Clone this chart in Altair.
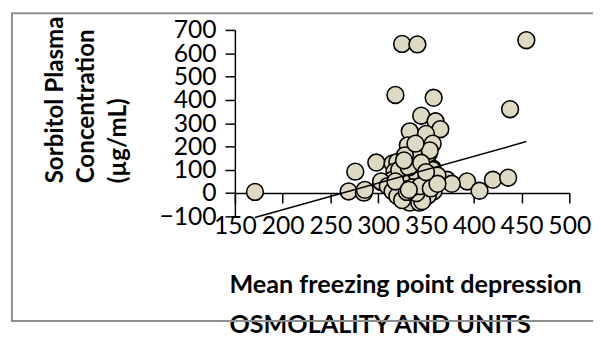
import altair as alt
import pandas as pd

# Mean freezing point depression (osmolality) vs sorbitol plasma concentration
osm = [
    171, 269, 285, 276, 298, 303, 315, 320, 317, 336, 338, 357, 347, 351, 353,
    325, 341, 455, 318, 358, 438, 345, 360, 365, 333, 350, 357, 331, 341, 354, 328, 339,
    372, 393, 406, 420, 436, 377, 357,
    315, 326, 345, 357, 303, 286,
    325, 335, 345, 330, 340, 350, 322, 332, 345, 327, 310, 362,
    320, 331, 341, 351, 358, 315,
    328, 338, 348, 320, 333, 343, 352, 325, 346,
    340, 330, 336, 344, 355, 362, 318, 350,
    332,
]
sorb = [
    5, 7, 2, 92, 131, 48, 127, 134, 92, 141, 106, 106, 106, 127, 170,
    640, 638, 656, 421, 409, 360, 332, 308, 274, 265, 254, 212, 205, 170, 183, 162, 212,
    57, 50, 10, 57, 66, 40, 99,
    57, 64, 71, 57, 50, 14,
    35, 40, 45, 80, 85, 60, 100, 110, 130, 140, 30, 75,
    22, 18, 14, 29, 8, 8,
    -13, -27, -20, -13, -41, -41, -10, -30, -35,
    0, 5, 25, 30, 20, 40, 50, 90,
    14,
]
trend_x = [171, 455]
trend_y = [-105, 221]
x_ticks = [150, 200, 250, 300, 350, 400, 450, 500]
y_ticks = [-100, 0, 100, 200, 300, 400, 500, 600, 700]
y_title = ["Sorbitol Plasma", "Concentration", "(µg/mL)"]
x_title = ["Mean freezing point depression", "OSMOLALITY AND UNITS"]

W, H = 339, 189
FONT = "Lato"

pts = pd.DataFrame({"x": osm, "y": sorb, "order": list(range(len(osm)))})
trend = pd.DataFrame({"x": trend_x, "y": trend_y})

xs = alt.Scale(domain=[150, 500], nice=False, zero=False)
ys = alt.Scale(domain=[-100, 700], nice=False, zero=False)

x_axis = alt.Axis(
    values=x_ticks, offset=-H * 100 / 800, grid=False,
    domainColor="black", domainWidth=1.5, tickColor="black", tickWidth=1.5, tickSize=10,
    labelFont=FONT, labelFontSize=25, labelColor="black", labelPadding=11,
    labelOverlap=False, labelFlush=False,
    title=x_title, titleFont=FONT, titleFontSize=25.5, titleFontWeight="bold", titleColor="black",
    titleAngle=0, titleAlign="left", titleBaseline="alphabetic",
    titleX=-6, titleY=100.6, titleLineHeight=41,
)
y_axis = alt.Axis(
    values=y_ticks, grid=False,
    domainColor="black", domainWidth=1.5, tickColor="black", tickWidth=1.5, tickSize=10,
    labelFont=FONT, labelFontSize=25, labelColor="black", labelPadding=9,
    labelOverlap=False, labelFlush=False,
    title=y_title, titleFont=FONT, titleFontSize=24.5, titleFontWeight="bold", titleColor="black",
    titleAngle=270, titleAlign="left", titleBaseline="alphabetic",
    titleX=-175, titleY=155, titleLineHeight=32,
)

frame = alt.Chart(alt.Data(values=[{"a": 1}])).mark_rect(
    fill=None, stroke="#8f8f8f", strokeWidth=2
).encode(
    x=alt.value(-226), x2=alt.value(400), y=alt.value(-17), y2=alt.value(295)
)

points = alt.Chart(pts).mark_point(
    shape="circle", filled=True, fill="#ddd9c3", stroke="black", strokeWidth=1.6,
    size=290, opacity=1
).encode(
    x=alt.X("x:Q", scale=xs, axis=x_axis),
    y=alt.Y("y:Q", scale=ys, axis=y_axis),
    order=alt.Order("order:Q"),
)

line = alt.Chart(trend).mark_line(color="black", strokeWidth=1.5).encode(
    x=alt.X("x:Q", scale=xs, axis=x_axis),
    y=alt.Y("y:Q", scale=ys, axis=y_axis),
)

chart = alt.layer(frame, points, line).properties(
    width=W, height=H,
    autosize=alt.AutoSizeParams(type="none"),
    padding={"left": 230, "top": 20, "right": 24, "bottom": 120},
).configure_view(stroke=None)

chart.save("out.html", embed_options={"renderer": "svg", "actions": False})
